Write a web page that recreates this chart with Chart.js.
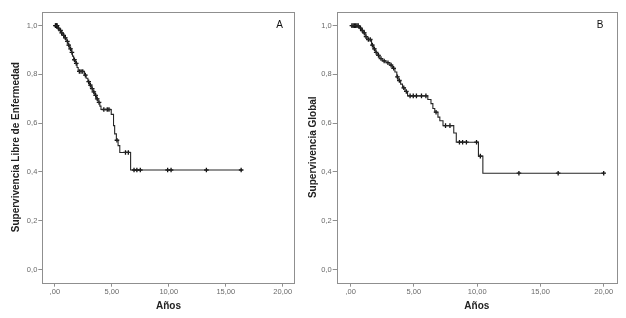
<!DOCTYPE html>
<html>
<head>
<meta charset="utf-8">
<script src="https://cdn.jsdelivr.net/npm/chart.js@4.4.1/dist/chart.umd.min.js"></script>
<style>
  html, body { margin: 0; padding: 0; background: #fff; }
  #wrap { position: relative; width: 626px; height: 318px; overflow: hidden; }
  canvas { position: absolute; top: 0; }
</style>
</head>
<body>
<div id="wrap">
  <canvas id="chartA" width="300" height="318" style="left:0px"></canvas>
  <canvas id="chartB" width="326" height="318" style="left:300px"></canvas>
</div>
<script>
// ejes
const xTicks = [0, 5, 10, 15, 20];
const xTickLabels = [',00', '5,00', '10,00', '15,00', '20,00'];
const yTicks = [0, 0.2, 0.4, 0.6, 0.8, 1.0];
const yTickLabels = ['0,0', '0,2', '0,4', '0,6', '0,8', '1,0'];

// A: Supervivencia libre de enfermedad (tiempos de evento y supervivencia)
const eventTimesA = [0, 0.25, 0.4, 0.55, 0.7, 0.85, 1.0, 1.15, 1.3, 1.45, 1.55, 1.65, 1.8, 1.95, 2.05,
  2.6, 2.75, 2.9, 3.05, 3.2, 3.35, 3.5, 3.65, 3.8, 3.95, 4.05, 4.95, 5.15, 5.25, 5.4, 5.55, 5.7, 6.65, 16.35];
const survivalA = [1, 0.99, 0.98, 0.97, 0.96, 0.95, 0.935, 0.92, 0.905, 0.89, 0.875, 0.86, 0.845, 0.828, 0.812,
  0.797, 0.784, 0.77, 0.756, 0.742, 0.728, 0.714, 0.70, 0.685, 0.67, 0.656, 0.636, 0.59, 0.556, 0.53, 0.508, 0.48, 0.408, 0.408];
// censurados A
const censorTimesA = [0.05, 0.1, 0.15, 0.2, 0.3, 0.5, 0.6, 0.78, 0.92, 1.1, 1.22, 1.38, 1.5, 1.72, 1.88,
  2.15, 2.3, 2.45, 2.68, 2.97, 3.12, 3.28, 3.42, 3.58, 3.72, 3.88, 4.3, 4.6, 4.75, 5.45, 6.2, 6.45,
  6.95, 7.2, 7.5, 9.9, 10.2, 13.3, 16.35];
const censorSurvA = [1, 1, 1, 1, 0.99, 0.98, 0.97, 0.96, 0.95, 0.935, 0.92, 0.905, 0.89, 0.86, 0.845,
  0.812, 0.812, 0.812, 0.797, 0.77, 0.756, 0.742, 0.728, 0.714, 0.70, 0.685, 0.656, 0.656, 0.656, 0.53, 0.48, 0.48,
  0.408, 0.408, 0.408, 0.408, 0.408, 0.408, 0.408];

// B: Supervivencia global
const eventTimesB = [0, 0.7, 0.85, 1.0, 1.15, 1.3, 1.65, 1.8, 1.95, 2.1, 2.3, 2.5, 2.8, 3.1, 3.3, 3.5, 3.65,
  3.75, 3.95, 4.1, 4.3, 4.5, 6.1, 6.35, 6.5, 6.65, 6.9, 7.05, 7.3, 8.15, 8.35, 10.1, 10.45, 20.0];
const survivalB = [1, 0.99, 0.98, 0.97, 0.955, 0.943, 0.92, 0.905, 0.89, 0.878, 0.865, 0.855, 0.848, 0.838, 0.825,
  0.81, 0.79, 0.775, 0.76, 0.745, 0.73, 0.712, 0.697, 0.68, 0.66, 0.645, 0.625, 0.61, 0.59, 0.56, 0.522, 0.465, 0.395, 0.395];
const censorTimesB = [0.1, 0.2, 0.3, 0.4, 0.5, 0.6, 0.78, 0.92, 1.08, 1.22, 1.4, 1.55, 1.72, 1.88, 2.02, 2.2,
  2.4, 2.65, 2.95, 3.2, 3.4, 3.7, 3.85, 4.2, 4.4, 4.7, 4.95, 5.2, 5.6, 5.95, 6.75, 7.5, 7.85,
  8.6, 8.85, 9.15, 9.95, 10.25, 13.3, 16.4, 20.0];
const censorSurvB = [1, 1, 1, 1, 1, 1, 0.99, 0.98, 0.97, 0.955, 0.943, 0.943, 0.92, 0.905, 0.89, 0.878,
  0.865, 0.855, 0.848, 0.838, 0.825, 0.79, 0.775, 0.745, 0.73, 0.712, 0.712, 0.712, 0.712, 0.712, 0.645, 0.59, 0.59,
  0.522, 0.522, 0.522, 0.522, 0.465, 0.395, 0.395, 0.395];

const toPoints = (xs, ys) => xs.map((x, i) => ({ x: x, y: ys[i] }));

// marco gris y letra del panel
const framePlugin = {
  id: 'frame',
  afterDraw(chart, args, opts) {
    const { ctx, chartArea } = chart;
    ctx.save();
    ctx.strokeStyle = '#8f8f8f';
    ctx.lineWidth = 1;
    ctx.strokeRect(Math.round(chartArea.left) + 0.5, Math.round(chartArea.top) + 0.5,
      Math.round(chartArea.right - chartArea.left), Math.round(chartArea.bottom - chartArea.top));
    ctx.fillStyle = '#111';
    ctx.font = '10px Arial, "Liberation Sans", sans-serif';
    ctx.textAlign = 'center';
    ctx.textBaseline = 'middle';
    ctx.fillText(opts.letter, chartArea.right - opts.dx, chartArea.top + 14);
    ctx.restore();
  }
};

function makeChart(id, cfg) {
  return new Chart(document.getElementById(id), {
    type: 'scatter',
    data: {
      datasets: [{
        data: toPoints(cfg.times, cfg.surv),
        showLine: true,
        stepped: true,
        borderColor: '#262626',
        borderWidth: 1.1,
        pointRadius: 0
      }, {
        data: toPoints(cfg.censorTimes, cfg.censorSurv),
        showLine: false,
        pointStyle: 'cross',
        pointRadius: 2.3,
        borderColor: '#111',
        borderWidth: 1.3
      }]
    },
    options: {
      responsive: false,
      animation: false,
      devicePixelRatio: 1,
      layout: { padding: { top: 11.7, right: cfg.padRight, bottom: 0, left: 0 } },
      plugins: {
        legend: { display: false },
        tooltip: { enabled: false },
        frame: { letter: cfg.letter, dx: cfg.letterDx }
      },
      scales: {
        x: {
          type: 'linear',
          min: -1.1,
          max: 21.05,
          afterBuildTicks: s => { s.ticks = xTicks.map(v => ({ value: v })); },
          afterFit: s => { s.height = 35.3; },
          grid: { drawOnChartArea: false, drawTicks: true, tickLength: 4, color: '#8f8f8f' },
          border: { display: false },
          ticks: {
            padding: 1,
            maxRotation: 0,
            color: '#6a6a6a',
            font: { family: 'Arial, "Liberation Sans", sans-serif', size: 7.5 },
            callback: (v, i) => xTickLabels[i]
          },
          title: {
            display: true,
            text: 'Años',
            color: '#222',
            padding: { top: 0, bottom: 5.3 },
            font: { family: 'Arial, "Liberation Sans", sans-serif', size: 10, weight: 'bold' }
          }
        },
        y: {
          type: 'linear',
          min: -0.054,
          max: 1.057,
          afterBuildTicks: s => { s.ticks = yTicks.map(v => ({ value: v })); },
          afterFit: s => { s.width = cfg.yWidth; },
          grid: { drawOnChartArea: false, drawTicks: true, tickLength: 4, color: '#8f8f8f' },
          border: { display: false },
          ticks: {
            padding: 1,
            color: '#6a6a6a',
            font: { family: 'Arial, "Liberation Sans", sans-serif', size: 7.5 },
            callback: (v, i) => yTickLabels[i]
          },
          title: {
            display: true,
            text: cfg.yTitle,
            color: '#222',
            padding: { top: cfg.yTitlePad, bottom: 0 },
            font: { family: 'Arial, "Liberation Sans", sans-serif', size: 10, weight: 'bold' }
          }
        }
      }
    },
    plugins: [framePlugin]
  });
}

makeChart('chartA', {
  times: eventTimesA, surv: survivalA,
  censorTimes: censorTimesA, censorSurv: censorSurvA,
  yTitle: 'Supervivencia Libre de Enfermedad',
  yWidth: 42.3, yTitlePad: 10, padRight: 2.3,
  letter: 'A', letterDx: 15
});

makeChart('chartB', {
  times: eventTimesB, surv: survivalB,
  censorTimes: censorTimesB, censorSurv: censorSurvB,
  yTitle: 'Supervivencia Global',
  yWidth: 36.7, yTitlePad: 7, padRight: 9,
  letter: 'B', letterDx: 17
});
</script>
</body>
</html>
